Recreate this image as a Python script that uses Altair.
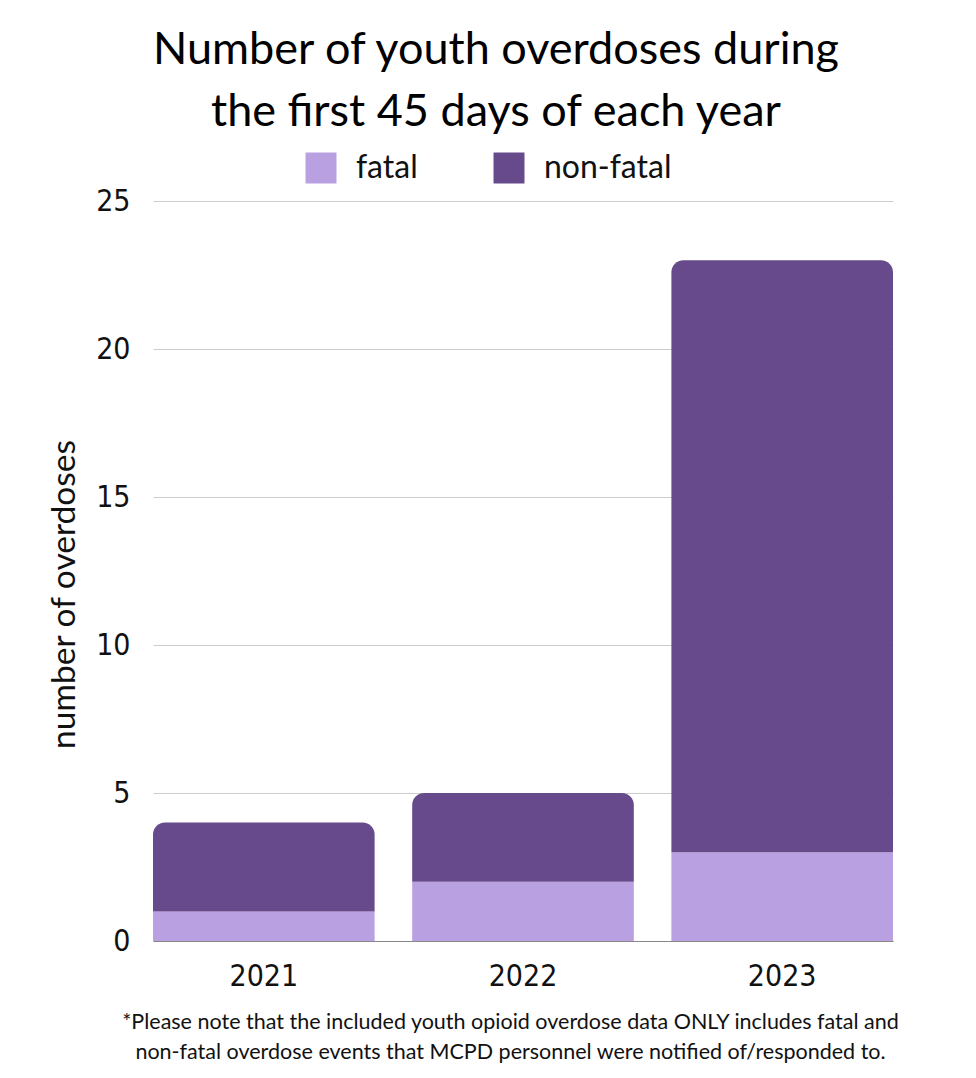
import altair as alt
import pandas as pd

years = ["2021", "2022", "2023"]
fatal = [1, 2, 3]
non_fatal = [3, 3, 20]
types = ["fatal", "non-fatal"]
colors = ["#B9A0E0", "#674A8B"]
y_ticks = [0, 5, 10, 15, 20, 25]
title_lines = ["Number of youth overdoses during", "the first 45 days of each year"]
note_lines = [
    "*Please note that the included youth opioid overdose data ONLY includes fatal and",
    "non-fatal overdose events that MCPD personnel were notified of/responded to.",
]

rows = []
for i, yr in enumerate(years):
    rows.append({"year": yr, "type": "fatal", "value": fatal[i], "order": 0})
    rows.append({"year": yr, "type": "non-fatal", "value": non_fatal[i], "order": 1})
df = pd.DataFrame(rows)

LABEL_FONT = "DejaVu Sans Condensed"

x_enc = alt.X(
    "year:N",
    sort=years,
    scale=alt.Scale(paddingInner=0.145, paddingOuter=0),
    axis=alt.Axis(
        title=note_lines,
        titleFont="Lato",
        titleFontSize=21.5,
        titleFontWeight="normal",
        titleColor="#111111",
        titlePadding=20,
        titleX=357,
        titleLineHeight=30,
        labelFont=LABEL_FONT,
        labelFontSize=30,
        labelColor="#111111",
        labelPadding=20,
        labelAngle=0,
        ticks=False,
        domain=True,
        domainColor="#888888",
        domainWidth=1,
    ),
)
y_enc = alt.Y(
    "start:Q",
    scale=alt.Scale(domain=[0, 25], nice=False),
    axis=alt.Axis(
        values=y_ticks,
        title="number of overdoses",
        titleFont="Lato",
        titleFontSize=33.5,
        titleFontWeight="normal",
        titleColor="#111111",
        titleAngle=-90,
        titleX=-79,
        titleY=393,
        titleAlign="center",
        titleBaseline="alphabetic",
        labelFont=LABEL_FONT,
        labelFontSize=30,
        labelColor="#111111",
        labelPadding=23,
        ticks=False,
        domain=False,
        grid=True,
        gridColor="#CCCCCC",
        gridWidth=1,
    ),
)
color_enc = alt.Color(
    "type:N",
    scale=alt.Scale(domain=types, range=colors),
    legend=alt.Legend(
        title=None,
        orient="none",
        direction="horizontal",
        legendX=152,
        legendY=-49,
        symbolType="square",
        symbolSize=961,
        symbolStrokeWidth=0,
        symbolOpacity=1,
        labelFont="Lato",
        labelFontSize=32,
        labelColor="#111111",
        labelOffset=19,
        columnPadding=75,
        padding=0,
    ),
)

base = alt.Chart(df).transform_stack(
    stack="value", groupby=["year"], as_=["start", "end"], sort=[alt.SortField("order")]
)

fatal_layer = base.transform_filter(alt.datum.type == "fatal").mark_bar().encode(
    x=x_enc, y=y_enc, y2="end:Q", color=color_enc
)
nonfatal_layer = base.transform_filter(alt.datum.type == "non-fatal").mark_bar(
    cornerRadiusTopLeft=12, cornerRadiusTopRight=12
).encode(x=x_enc, y=y_enc, y2="end:Q", color=color_enc)

chart = (
    alt.layer(fatal_layer, nonfatal_layer)
    .properties(
        width=740,
        height=740,
        background="white",
        autosize=alt.AutoSizeParams(type="none"),
        padding={"left": 145, "top": 193, "right": 75, "bottom": 129},
        title=alt.TitleParams(
            text=title_lines,
            font="Lato",
            fontSize=45,
            fontWeight="normal",
            color="#000000",
            anchor="middle",
            dx=-27,
            lineHeight=62,
            offset=17,
        ),
    )
    .configure_view(strokeWidth=0, stroke="transparent")
)

chart.save("out.html", embed_options={"renderer": "svg", "actions": False})
